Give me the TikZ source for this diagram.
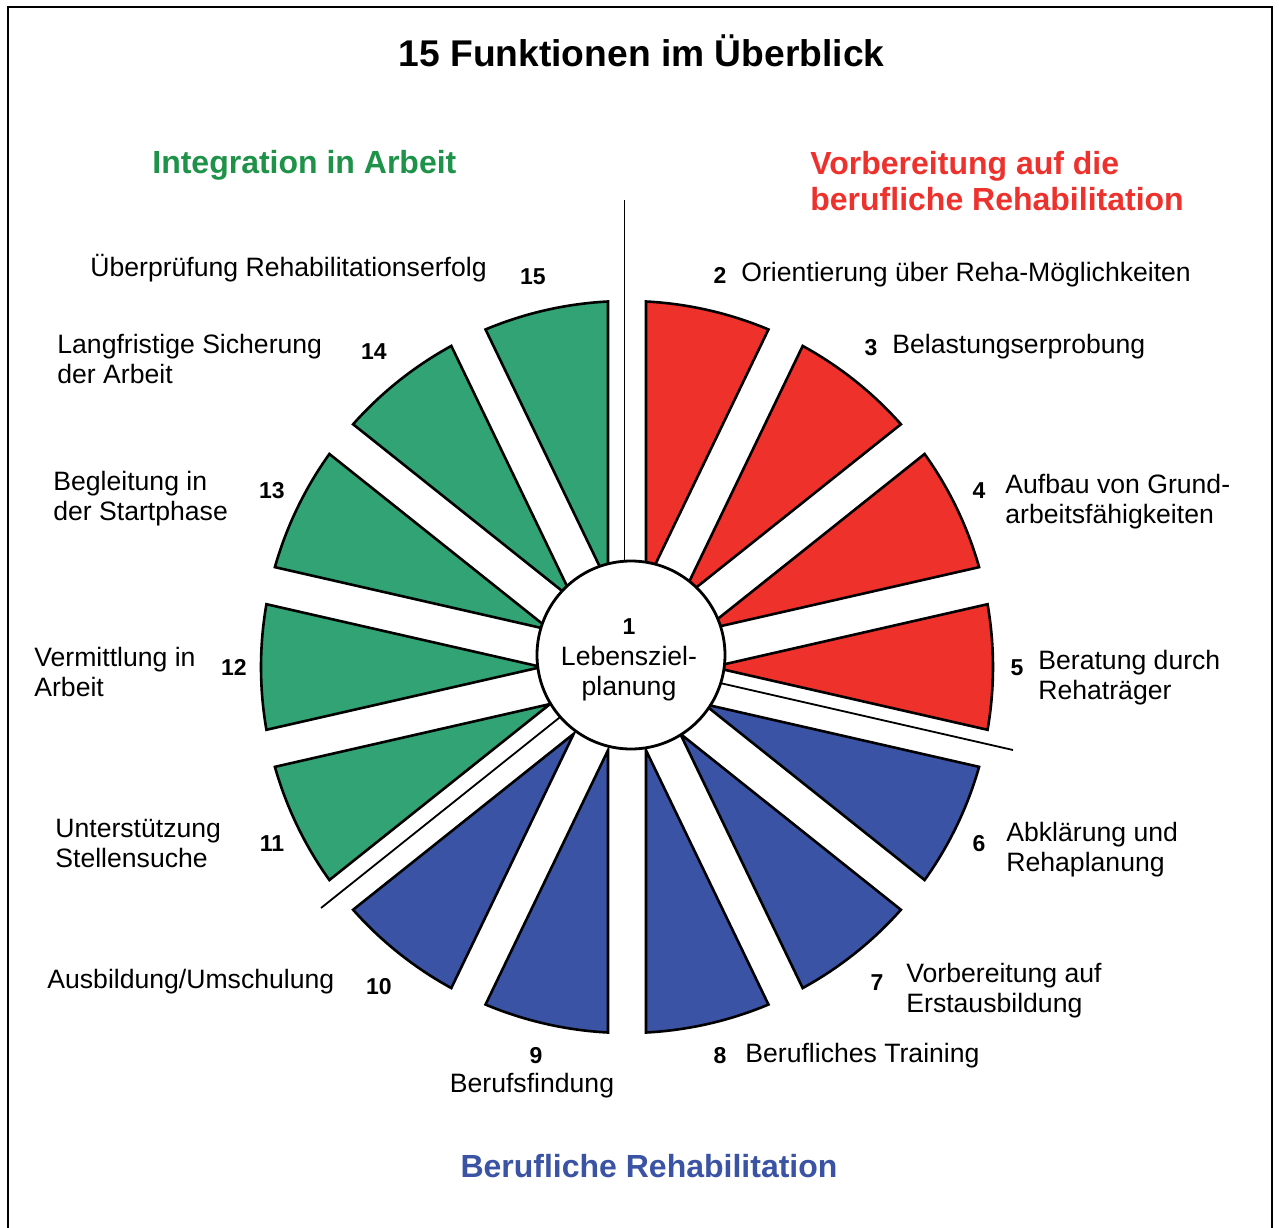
\documentclass[tikz,border=0pt]{standalone}
\usepackage{fontspec}
\setmainfont{Liberation Sans}
\usepackage{tikz}
\definecolor{rehaRot}{RGB}{238,49,43}
\definecolor{rehaGruen}{RGB}{50,163,116}
\definecolor{rehaBlau}{RGB}{58,83,164}
\definecolor{textGruen}{RGB}{30,146,72}
\definecolor{textRot}{RGB}{237,50,45}

\begin{document}
\begin{tikzpicture}[
        x=0.5pt, y=0.5pt,
        lab/.style={font=\fontsize{13.3}{15.2}\selectfont, inner sep=0pt, align=left, anchor=base west},
        num/.style={font=\bfseries\fontsize{11.5}{13}\selectfont, inner sep=0pt, anchor=base},
        head/.style={font=\bfseries\fontsize{16}{18}\selectfont, inner sep=0pt, align=left, anchor=base west},
        sektor/.style={draw=black, line width=1.3pt},
        trenn/.style={line width=0.9pt}
    ]
        % --- Rahmen und Bildgroesse ---
        \useasboundingbox (-627,-560) rectangle (652,667);
        \draw[line width=1.2pt] (-619,-580) -- (-619,660) -- (645,660) -- (645,-580);

        % --- Parameter der Sektoren ---
        \def\Raus{366} % Aussenradius
        \def\spalt{19} % halbe Spaltbreite
        \def\halb{12.857} % halber Sektorwinkel (360/14/2)
        \pgfmathsetmacro{\versatz}{asin(\spalt/\Raus)}
        \pgfmathsetmacro{\spitze}{\spalt/sin(\halb)}

        % Sektor: #1 Mittelwinkel, #2 Farbe
        \def\sektor#1#2{%
            \filldraw[sektor, fill=#2] (#1:\spitze) -- (#1+\halb-\versatz:\Raus)
                arc[start angle=#1+\halb-\versatz, end angle=#1-\halb+\versatz, radius=\Raus] -- cycle;}

        % --- Trennlinien zwischen den Bereichen ---
        \draw[trenn] (-2.5,60) -- (-2.5,467);
        \draw[trenn] (58,-8) -- (386,-83);
        \draw[trenn] (-48,-35) -- (-306,-241);

        % --- Vorbereitung (rot) ---
        \sektor{77.143}{rehaRot}   % 2
        \sektor{51.429}{rehaRot}   % 3
        \sektor{25.714}{rehaRot}   % 4
        \sektor{0}{rehaRot}        % 5
        % --- Berufliche Rehabilitation (blau) ---
        \sektor{-25.714}{rehaBlau}  % 6
        \sektor{-51.429}{rehaBlau}  % 7
        \sektor{-77.143}{rehaBlau}  % 8
        \sektor{-102.857}{rehaBlau} % 9
        \sektor{-128.571}{rehaBlau} % 10
        % --- Integration (gruen) ---
        \sektor{-154.286}{rehaGruen} % 11
        \sektor{180}{rehaGruen}      % 12
        \sektor{154.286}{rehaGruen}  % 13
        \sektor{128.571}{rehaGruen}  % 14
        \sektor{102.857}{rehaGruen}  % 15

        % --- Mittelkreis ---
        \filldraw[fill=white, line width=1.4pt] (4,12) circle[radius=94];
        \node[lab, align=center, anchor=base] (ziel) at (2,-28.5)
            {{\bfseries\fontsize{11.5}{13}\selectfont 1}\\Lebensziel-\\planung};

        % --- Ueberschriften ---
        \node[font=\bfseries\fontsize{18.6}{22}\selectfont, inner sep=0pt, anchor=base] (titel) at (14.5,600)
            {15 Funktionen im Überblick};
        \node[head, textGruen] (integration) at (-475,493) {Integration in Arbeit};
        \node[head, textRot] (vorbereitung) at (183,456) {Vorbereitung auf die\\berufliche Rehabilitation};
        \node[head, rehaBlau, anchor=base] (beruflich) at (22,-510) {Berufliche Rehabilitation};

        % --- Nummern ---
        \node[num] (n2) at (93,383) {2};
        \node[num] (n3) at (244,312) {3};
        \node[num] (n4) at (352,169) {4};
        \node[num] (n5) at (390,-8) {5};
        \node[num] (n6) at (352,-184) {6};
        \node[num] (n7) at (250,-323) {7};
        \node[num] (n8) at (93,-396) {8};
        \node[num] (n9) at (-91,-396) {9};
        \node[num] (n10) at (-248,-327) {10};
        \node[num] (n11) at (-355,-184) {11};
        \node[num] (n12) at (-393,-8) {12};
        \node[num] (n13) at (-355,169) {13};
        \node[num] (n14) at (-253,307) {14};
        \node[num] (n15) at (-94,382) {15};

        % --- Beschriftungen ---
        \node[lab] (t2) at (114,386) {Orientierung über Reha-Möglichkeiten};
        \node[lab] (t3) at (265,314) {Belastungserprobung};
        \node[lab] (t4) at (378,143.6) {Aufbau von Grund-\\arbeitsfähigkeiten};
        \node[lab] (t5) at (411,-32.4) {Beratung durch\\Rehaträger};
        \node[lab] (t6) at (379,-204.4) {Abklärung und\\Rehaplanung};
        \node[lab] (t7) at (279,-345.4) {Vorbereitung auf\\Erstausbildung};
        \node[lab] (t8) at (118,-395) {Berufliches Training};
        \node[lab, anchor=base] (t9) at (-95,-425) {Berufsfindung};
        \node[lab] (t10) at (-580,-321) {Ausbildung/Umschulung};
        \node[lab] (t11) at (-572,-200.4) {Unterstützung\\Stellensuche};
        \node[lab] (t12) at (-593,-29.4) {Vermittlung in\\Arbeit};
        \node[lab] (t13) at (-574,146.6) {Begleitung in\\der Startphase};
        \node[lab] (t14) at (-570,283.6) {Langfristige Sicherung\\der Arbeit};
        \node[lab] (t15) at (-537,390) {Überprüfung Rehabilitationserfolg};
\end{tikzpicture}
\end{document}
